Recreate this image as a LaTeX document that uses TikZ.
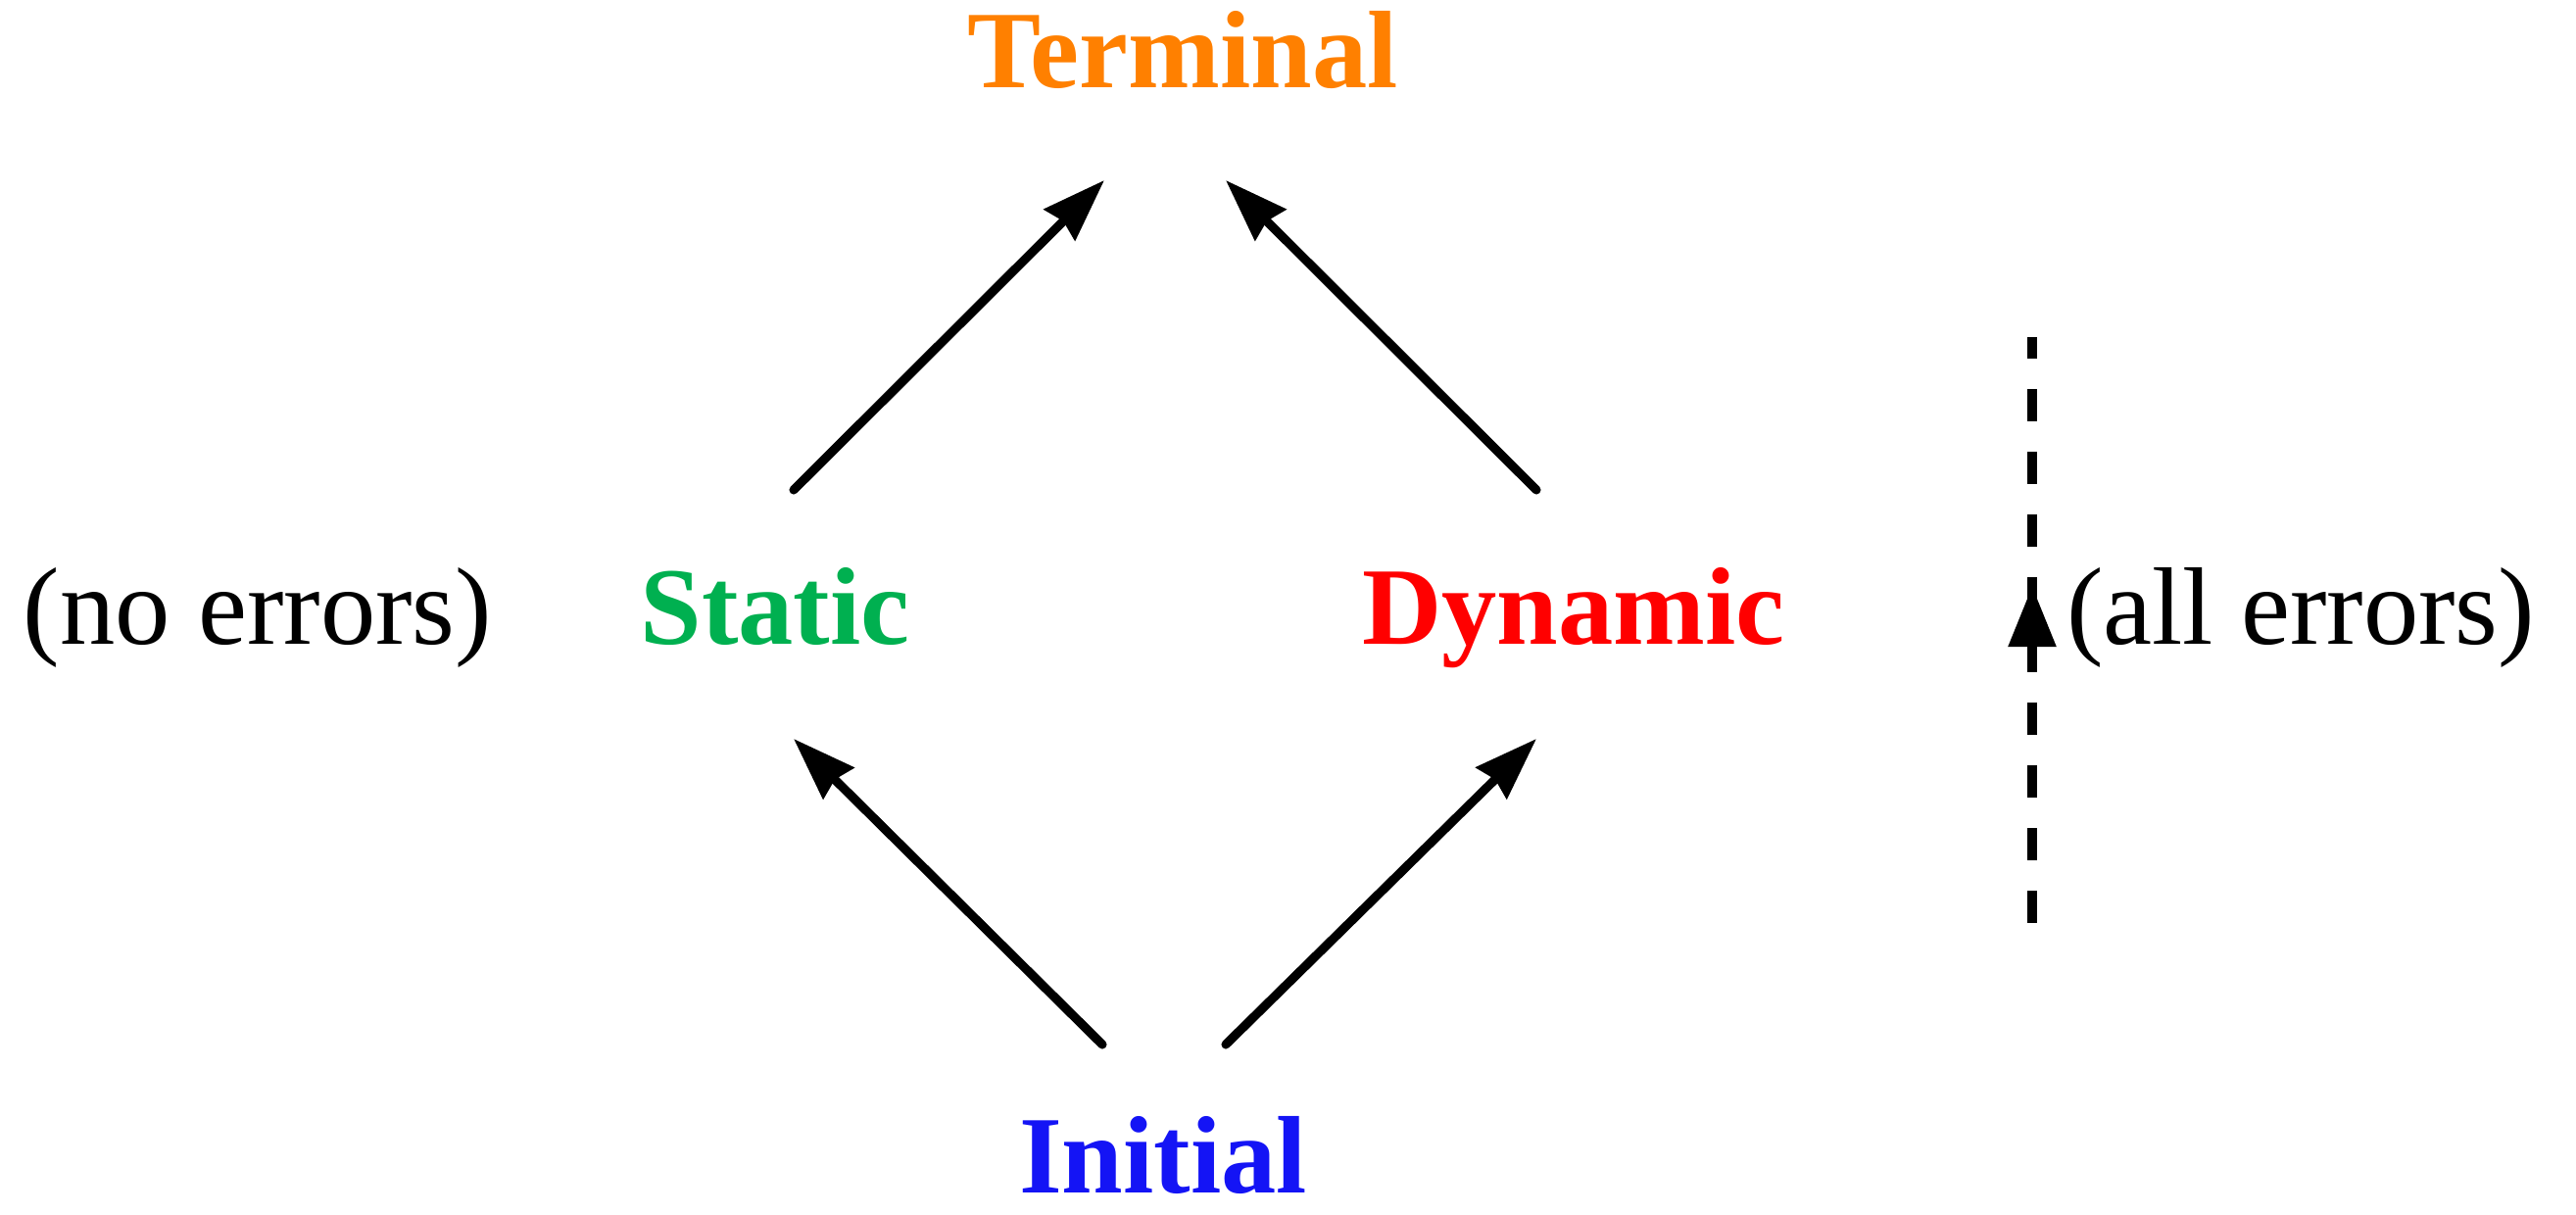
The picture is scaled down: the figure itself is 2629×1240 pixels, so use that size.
\documentclass[tikz,border=0pt]{standalone}
\usepackage{fontspec}
\setmainfont{Liberation Serif}
\usetikzlibrary{arrows.meta,decorations.markings}
\definecolor{cOrange}{RGB}{255,128,0}
\definecolor{cGreen}{RGB}{0,176,80}
\definecolor{cRed}{RGB}{255,0,0}
\definecolor{cBlue}{RGB}{20,20,245}
\begin{document}
\begin{tikzpicture}[x=0.01cm,y=-0.01cm,
  lbl/.style={anchor=base,inner sep=0pt,font=\fontsize{32}{38}\selectfont},
  state/.style={lbl,font=\fontsize{32}{38}\selectfont\bfseries},
  arr/.style={line width=2.6pt,line cap=round,-{Stealth[length=0.64cm,width=0.44cm,inset=0.05cm]}},
  midarr/.style={line width=2.6pt,dash pattern=on 0.33cm off 0.31cm,
    postaction={decorate},decoration={markings,mark=at position 0.575 with {\arrow{Stealth[length=0.62cm,width=0.47cm,inset=0cm]}}}}
]
\useasboundingbox (0,0) rectangle (2629,1240);
\node[state,text=cOrange] (T) at (1207,90) {Terminal};
\node[state,text=cGreen] (S) at (791,658) {Static};
\node[state,text=cRed] (D) at (1606,658) {Dynamic};
\node[state,text=cBlue] (I) at (1187,1218) {Initial};
\node[lbl] (N) at (263,658) {(no errors)};
\node[lbl] (A) at (2348,658) {(all errors)};
% connector end points
\coordinate (s1) at (810,500);
\coordinate (t1) at (1127,184);
\coordinate (d1) at (1568,500);
\coordinate (t2) at (1251,184);
\coordinate (i1) at (1125,1066);
\coordinate (s2) at (810,754);
\coordinate (i2) at (1251,1066);
\coordinate (d2) at (1568,754);
\coordinate (lo) at (2074,942);
\coordinate (hi) at (2074,344);
\draw[arr] (s1) -- (t1);
\draw[arr] (d1) -- (t2);
\draw[arr] (i1) -- (s2);
\draw[arr] (i2) -- (d2);
\draw[midarr] (lo) -- (hi);
\end{tikzpicture}
\end{document}
